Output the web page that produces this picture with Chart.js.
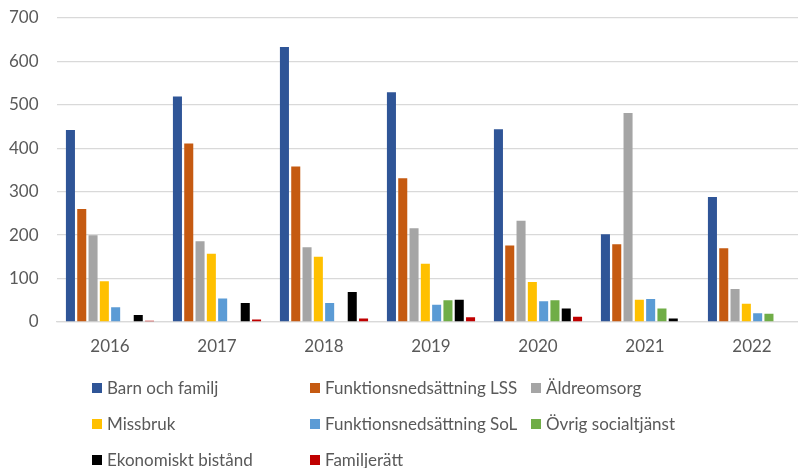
<!DOCTYPE html>
<html>
<head>
<meta charset="utf-8">
<script src="https://cdn.jsdelivr.net/npm/chart.js@4/dist/chart.umd.min.js"></script>
<style>
  html, body { margin: 0; padding: 0; background: #fff; overflow: hidden; }
  #wrap { position: relative; width: 810px; height: 468px; }
</style>
</head>
<body>
<div id="wrap"><canvas id="c"></canvas></div>
<script>
const years = ['2016', '2017', '2018', '2019', '2020', '2021', '2022'];
const seriesNames = ['Barn och familj', 'Funktionsnedsättning LSS', 'Äldreomsorg', 'Missbruk',
  'Funktionsnedsättning SoL', 'Övrig socialtjänst', 'Ekonomiskt bistånd', 'Familjerätt'];
const barnOchFamilj      = [442, 519, 633, 529, 444, 202, 288];
const funktionLSS        = [260, 411, 358, 331, 176, 179, 170];
const aldreomsorg        = [200, 186, 172, 216, 233, 481, 76];
const missbruk           = [94, 157, 150, 134, 92, 51, 42];
const funktionSoL        = [34, 54, 44, 40, 48, 53, 20];
const ovrigSocialtjanst  = [0, 0, 0, 50, 50, 31, 19];
const ekonomisktBistand  = [16, 44, 69, 51, 31, 8, 2];
const familjeratt        = [3, 6, 8, 11, 12, 0, 0];
const yTicks = [0, 100, 200, 300, 400, 500, 600, 700];

const colors = ['#2F5597', '#C55A11', '#A5A5A5', '#FFC000', '#5B9BD5', '#70AD47', '#000000', '#C00000'];
const values = [barnOchFamilj, funktionLSS, aldreomsorg, missbruk, funktionSoL, ovrigSocialtjanst, ekonomisktBistand, familjeratt];

const FONT = 'Lato';
const TXT = '#595959';

const legendPlugin = {
  id: 'gridLegend',
  afterDraw(chart) {
    const ctx = chart.ctx;
    const colX = [92, 310, 531];
    const rowY = [388, 424, 460];
    ctx.save();
    ctx.font = '17px ' + FONT;
    ctx.fillStyle = TXT;
    ctx.textBaseline = 'middle';
    chart.data.datasets.forEach((ds, i) => {
      const cx = colX[i % 3], cy = rowY[Math.floor(i / 3)];
      ctx.fillStyle = ds.backgroundColor;
      ctx.fillRect(cx, cy - 5, 10, 10);
      ctx.fillStyle = TXT;
      ctx.fillText(ds.label, cx + 15, cy + 1);
    });
    ctx.restore();
  }
};

new Chart(document.getElementById('c'), {
  type: 'bar',
  data: {
    labels: years,
    datasets: seriesNames.map((name, i) => ({
      label: name,
      data: values[i],
      backgroundColor: colors[i],
      borderWidth: 0,
      categoryPercentage: 0.845,
      barPercentage: 0.8
    }))
  },
  options: {
    responsive: true,
    maintainAspectRatio: false,
    animation: false,
    layout: { padding: { left: 0, right: 4.5, top: 18, bottom: 0 } },
    plugins: { legend: { display: false }, tooltip: { enabled: false } },
    scales: {
      x: {
        grid: { display: false, drawTicks: false },
        border: { display: true, color: '#D9D9D9', width: 1.3 },
        ticks: { color: TXT, font: { family: FONT, size: 17 }, padding: 14 },
        afterFit(scale) { scale.height = 146; }
      },
      y: {
        min: 0, max: 700,
        afterBuildTicks(scale) { scale.ticks = yTicks.map(v => ({ value: v })); },
        grid: { color: '#D9D9D9', lineWidth: 1.3, drawTicks: false },
        border: { display: false },
        ticks: { color: TXT, font: { family: FONT, size: 17 }, padding: 18 },
        afterFit(scale) { scale.width = 56.5; scale.paddingTop = 0; scale.paddingBottom = 0; }
      }
    }
  },
  plugins: [legendPlugin]
});
</script>
</body>
</html>
